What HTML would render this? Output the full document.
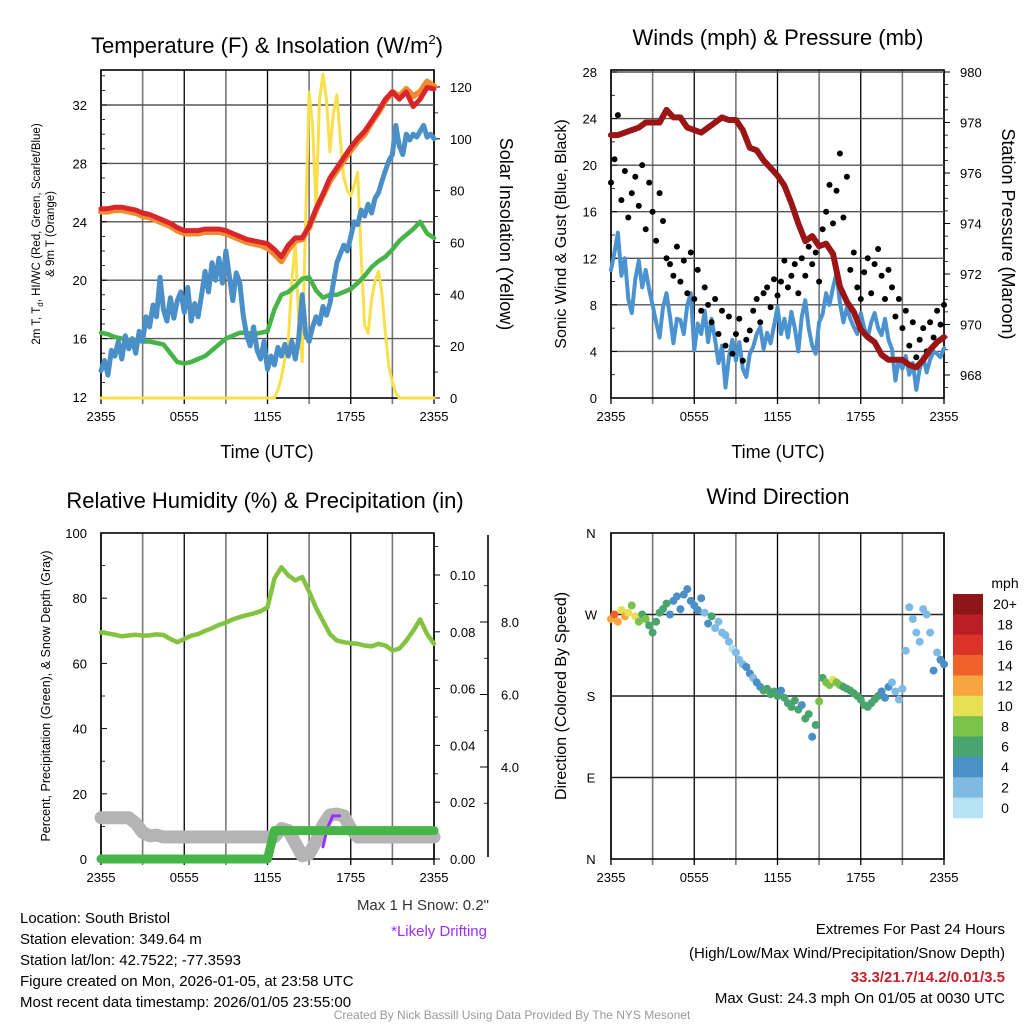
<!DOCTYPE html>
<html><head><meta charset="utf-8"><style>
html,body{margin:0;padding:0;background:#fff;}
svg{display:block;font-family:"Liberation Sans",Arial,sans-serif;}
</style></head><body>
<svg id="c" width="1024" height="1024" viewBox="0 0 1024 1024" xmlns="http://www.w3.org/2000/svg"></svg>
<script>
// ---------- DATA ----------
const timeTicks = ["2355","0555","1155","1755","2355"];
const tempRed = [24.9,24.9,25.0,25.0,24.9,24.8,24.6,24.5,24.3,24.1,23.9,23.6,23.4,23.4,23.4,23.5,23.5,23.5,23.4,23.2,23.0,22.8,22.7,22.6,22.5,22.1,21.6,22.4,22.9,22.9,23.7,24.9,25.9,27.0,27.7,28.4,29.1,29.7,30.2,30.9,31.6,32.4,32.9,32.4,32.9,31.9,32.4,33.2,33.1];
const temp9m = [24.7,24.7,24.8,24.8,24.7,24.6,24.4,24.3,24.1,23.9,23.7,23.4,23.2,23.2,23.2,23.3,23.3,23.3,23.2,23.0,22.8,22.6,22.5,22.4,22.2,21.8,21.3,22.1,22.7,22.8,23.6,24.8,25.8,26.8,27.5,28.2,28.9,29.5,30.0,30.8,31.5,32.3,32.9,32.6,33.1,32.6,32.9,33.6,33.3];
const tempBlue = [13.8,14.5,13.5,15.2,14.8,15.8,14.6,16.2,15.3,16.0,15.0,16.5,15.8,17.5,16.8,18.3,17.5,20.2,18.0,17.2,18.8,17.4,18.6,19.2,17.8,19.5,17.2,18.4,17.5,19.0,20.6,19.2,21.2,20.0,21.5,19.8,22.0,20.3,18.6,20.5,19.8,17.6,16.2,15.5,16.8,15.2,14.6,15.8,13.9,14.8,14.2,15.4,14.8,15.6,14.8,15.8,14.6,16.0,19.0,16.3,15.8,16.8,17.5,17.0,18.2,17.6,18.4,19.8,21.2,21.8,22.4,22.0,23.0,24.0,23.8,24.8,24.4,25.2,24.6,25.6,26.0,26.8,27.5,28.2,28.6,30.6,29.2,28.6,30.0,29.6,30.0,29.8,30.2,30.6,29.8,30.0,29.7];
const tempGreen = [16.4,16.3,16.1,16.0,15.9,15.9,15.8,15.8,15.7,15.6,15.0,14.4,14.3,14.4,14.6,14.8,15.2,15.6,16.0,16.2,16.4,16.4,16.3,16.4,16.5,18.0,19.0,19.2,19.6,20.1,20.2,19.3,18.8,19.0,19.0,19.2,19.4,19.8,20.3,20.9,21.3,21.6,22.1,22.7,23.1,23.5,24.0,23.2,22.9];
const insolation = [0,0,0,0,0,0,0,0,0,0,0,0,0,0,0,0,0,0,0,0,0,0,0,0,0,0,0,0,0,0,0,0,0,0,0,0,0,0,0,0,0,0,0,0,0,0,0,0,0,0,0,3,8,15,22,45,60,30,14,70,118,105,73,115,125,115,95,110,117,100,85,80,78,82,87,55,28,25,38,45,49,40,25,12,6,2,0,0,0,0,0,0,0,0,0,0,0];
const tempTicks = [12,16,20,24,28,32];
const insTicks = [0,20,40,60,80,100,120];

const pressure = [977.5,977.5,977.6,977.7,977.8,978.0,978.0,978.0,978.5,978.2,978.2,977.8,977.7,977.6,977.8,978.0,978.2,978.1,978.1,977.7,977.0,976.9,976.5,976.2,975.9,975.5,974.8,974.0,973.3,973.5,973.1,973.2,972.8,971.5,970.9,970.5,969.8,969.5,969.3,968.8,968.6,968.6,968.6,968.4,968.3,968.6,969.0,969.3,969.5];
const windSpeed = [11,12.5,14.2,10.5,12.0,8.5,7.3,10.2,11.8,9.5,11.0,9.3,8.0,6.5,5.2,7.8,9.0,7.0,4.7,6.8,6.7,5.5,8.0,9.0,4.1,6.4,5.5,7.5,4.8,6.8,5.0,3.0,4.5,0.9,3.5,5.0,3.2,4.8,2.5,1.8,3.8,4.4,5.5,6.1,4.2,5.6,4.7,6.2,7.8,5.5,6.8,5.2,7.4,6.0,4.0,7.0,8.4,6.0,4.5,3.8,6.5,7.2,9.0,8.0,9.5,10.7,8.2,6.5,7.8,6.8,6.1,5.5,7.3,6.0,5.2,6.5,7.3,6.0,5.4,6.8,5.0,4.2,1.5,3.3,2.5,3.6,2.0,3.0,0.7,2.5,3.5,2.2,3.3,4.0,3.8,3.5,4.3];
const windGust = [18.5,20.5,24.3,17.0,19.5,15.5,17.6,19.0,16.5,20.0,14.5,18.5,16.0,13.5,17.6,15.2,12.0,11.5,10.5,13.0,10.0,11.8,9.0,12.5,8.5,11.0,7.5,9.5,8.0,6.5,8.5,5.5,7.5,4.5,7.0,3.8,5.5,6.8,3.2,5.0,5.8,7.5,8.5,6.5,9.0,9.5,7.8,10.2,8.8,10.0,11.8,9.5,10.5,11.5,9.0,12.0,10.5,13.0,11.5,12.5,10.0,14.5,16.0,18.3,15.0,17.8,21.0,15.5,19.0,11.0,12.5,9.5,8.5,10.8,12.0,9.0,11.5,12.8,10.5,8.5,11.0,9.5,7.0,8.5,6.0,7.5,4.5,6.5,3.5,5.0,6.0,4.0,6.5,5.2,7.5,6.3,8.0];
const windTicks = [0,4,8,12,16,20,24,28];
const presTicks = [968,970,972,974,976,978,980];

const humidity = [69.5,69.2,68.8,68.3,68.6,68.8,68.5,68.6,68.9,68.7,67.5,66.5,67.5,68.5,69.0,70.0,70.8,71.8,72.5,73.5,74.2,74.8,75.3,76.0,77.2,86.0,89.5,87.0,85.5,86.5,82.0,77.0,73.0,69.0,67.0,66.5,66.2,66.0,65.5,65.2,66.0,65.5,64.0,64.5,67.0,70.0,73.5,69.0,66.0];
const precip = [0,0,0,0,0,0,0,0,0,0,0,0,0,0,0,0,0,0,0,0,0,0,0,0,0,0.01,0.01,0.01,0.01,0.01,0.01,0.01,0.01,0.01,0.01,0.01,0.01,0.01,0.01,0.01,0.01,0.01,0.01,0.01,0.01,0.01,0.01,0.01,0.01];
const snowDepth = [2.6,2.6,2.6,2.6,2.6,2.45,2.2,2.1,2.12,2.07,2.07,2.07,2.07,2.07,2.07,2.07,2.07,2.07,2.07,2.07,2.07,2.07,2.07,2.07,2.07,2.07,2.3,2.25,1.9,1.55,1.6,1.95,2.4,2.68,2.7,2.65,2.3,2.07,2.07,2.07,2.07,2.07,2.07,2.07,2.07,2.07,2.07,2.07,2.07];
const driftHours = [16.0,16.3,16.7,17.2];
const driftSnow = [1.8,2.3,2.65,2.65];
const pctTicks = [0,20,40,60,80,100];
const precipTicks = [0.00,0.02,0.04,0.06,0.08,0.10];
const snowTicks = [4.0,6.0,8.0];

const windDir = [265,270,262,275,268,272,280,268,262,270,265,258,250,262,272,276,282,270,285,290,276,292,298,285,280,275,288,272,260,268,255,262,250,247,240,232,228,220,215,212,205,200,195,190,186,188,182,185,180,186,178,172,168,175,165,170,155,160,135,148,174,200,195,192,198,195,192,190,188,186,183,180,176,170,168,172,176,180,185,178,190,195,185,176,188,230,278,265,250,240,276,270,250,208,228,220,215];
const dirSpeed = [13,14,12,11,12,10,9,10,8,7,8,7,6,7,6,7,6,5,5,5,4,4,4,5,4,5,4,3,4,6,3,3,3,2,3,1,3,2,3,4,4,3,4,5,6,6,6,7,6,5,6,7,6,6,6,5,6,6,4,6,8,7,9,8,10,8,9,6,7,6,6,7,7,6,7,7,6,6,4,4,4,3,3,2,3,2,3,2,3,2,3,2,3,4,3,5,4];
const dirLabels = ["N","E","S","W","N"];
const dirTickVals = [0,90,180,270,360];
const cbLabels = ["0","2","4","6","8","10","12","14","16","18","20+"];
const cbColors = ['#b6e2f6','#7fbae3','#4a8fc6','#49a56d','#7bc24a','#e7e055','#f7a540','#f0622a','#dc3328','#bb1e24','#8e1518'];

// ---------- HELPERS ----------
const NS="http://www.w3.org/2000/svg";
const svg=document.getElementById('c');
function mk(tag,attrs,parent){const e=document.createElementNS(NS,tag);for(const k in attrs)e.setAttribute(k,attrs[k]);(parent||svg).appendChild(e);return e;}
function txt(x,y,s,size,anchor,extra){const e=mk('text',Object.assign({x:x,y:y,'font-size':size,'text-anchor':anchor||'start',fill:'#000'},extra||{}));e.textContent=s;return e;}
function hx(i,n){return i*24/(n-1);}

const P1={l:101,r:434,t:70,b:398}, P2={l:611,r:944,t:70,b:398}, P3={l:101,r:434,t:533,b:859}, P4={l:611,r:944,t:533,b:859};
const xA=(P,h)=>P.l+h*(P.r-P.l)/24;
const yTemp=v=>397-(v-12)*14.6;
const yIns=v=>398-v*2.592;
const yWind=v=>398-v*11.643;
const yPres=v=>375-(v-968)*25.25;
const yPct=v=>859-v*3.26;
const yPrecip=v=>859-v*2840;
const ySnow=v=>767-(v-4)*36.25;
const yDir=v=>859-v*326/360;

function frame(P,name){
  const g=mk('g',{});
  
  
  for(let k=0;k<=8;k++){
    const x=P.l+k*(P.r-P.l)/8;
    const l=mk('line',{x1:x,y1:P.t,x2:x,y2:P.b+6,stroke:k%2==0?'#000':'#777','stroke-width':k%2==0?1.3:1.6},g);
    
    
  }
  const r=mk('rect',{x:P.l,y:P.t,width:P.r-P.l,height:P.b-P.t,fill:'none',stroke:'#000','stroke-width':1.6});
  
  
  timeTicks.forEach((t,k)=>{
    const e=txt(P.l+k*(P.r-P.l)/4,P.b+23,t,13,'middle');
    
    
  });
}
function hgrid(P,vals,yf,color){
  vals.forEach(v=>{const y=yf(v);if(y>P.t+1&&y<P.b-1){const l=mk('line',{x1:P.l,y1:y,x2:P.r,y2:y,stroke:color||'#555','stroke-width':1.4});
    
    }});
}
function leftTicks(P,vals,yf,labels,minor){
  vals.forEach((v,k)=>{const y=yf(v);
    mk('line',{x1:P.l,y1:y,x2:P.l+6,y2:y,stroke:'#000','stroke-width':1});
    const e=txt(P.l-14,y+5,labels?labels[k]:String(v),13,'end');
    
    });
  if(minor)minor.forEach(v=>{const y=yf(v);mk('line',{x1:P.l,y1:y,x2:P.l+4,y2:y,stroke:'#000','stroke-width':0.8});});
}
function rightTicks(P,vals,yf,fmt,minor){
  vals.forEach(v=>{const y=yf(v);
    mk('line',{x1:P.r,y1:y,x2:P.r+6,y2:y,stroke:'#000','stroke-width':1});
    const e=txt(P.r+16,y+5,fmt?fmt(v):String(v),13,'start');
    
    });
  if(minor)minor.forEach(v=>{const y=yf(v);mk('line',{x1:P.r,y1:y,x2:P.r+4,y2:y,stroke:'#000','stroke-width':0.8});});
}
function series(P,arr,yf,color,w,name,hours){
  const pts=arr.map((v,i)=>xA(P,hours?hours[i]:hx(i,arr.length)).toFixed(1)+','+yf(v).toFixed(1)).join(' ');
  const e=mk('polyline',{points:pts,fill:'none',stroke:color,'stroke-width':w,'stroke-linejoin':'round','stroke-linecap':'round'});
  
  
  return e;
}
function range(a,b,s){const r=[];for(let v=a;v<=b+1e-9;v+=s)r.push(+v.toFixed(3));return r;}

// ---------- PANEL 1 ----------
frame(P1,'temperature-panel');
hgrid(P1,tempTicks,yTemp);
leftTicks(P1,tempTicks,yTemp,null,range(13,34,1));
rightTicks(P1,insTicks,yIns,null,range(10,120,10));
series(P1,insolation,yIns,'#f9e04b',3,'insolation-line');
series(P1,tempGreen,yTemp,'#46b446',4.5,'dewpoint-line');
series(P1,tempBlue,yTemp,'#4a8fc8',5,'heat-index-wind-chill-line');
series(P1,temp9m,yTemp,'#f08c30',6,'temp-9m-line');
series(P1,tempRed,yTemp,'#d8262a',5,'temp-2m-line');
let t=mk('text',{x:267,y:53,'font-size':22,'text-anchor':'middle'});t.innerHTML='Temperature (F) &amp; Insolation (W/m<tspan dy="-9" font-size="13">2</tspan><tspan dy="9">)</tspan>';

t=mk('text',{transform:'translate(40,234) rotate(-90)','font-size':11.5,'text-anchor':'middle'});t.innerHTML='2m T, T<tspan dy="3" font-size="8">d</tspan><tspan dy="-3">, HI/WC (Red, Green, Scarlet/Blue)</tspan>';

t=txt(0,0,'& 9m T (Orange)',11.5,'middle',{transform:'translate(54,234) rotate(-90)'});

t=txt(0,0,'Solar Insolation (Yellow)',18,'middle',{transform:'translate(500,234) rotate(90)'});

t=txt(267,458,'Time (UTC)',18,'middle');


// ---------- PANEL 2 ----------
frame(P2,'wind-panel');
hgrid(P2,windTicks,yWind);
leftTicks(P2,windTicks,yWind,null,range(2,26,4));
rightTicks(P2,presTicks,yPres,null,range(967.5,979.5,0.5).filter(v=>v%2!==0));
series(P2,windSpeed,yWind,'#4a93d0',4,'sonic-wind-line');
windGust.forEach((v,i)=>{const c=mk('circle',{cx:xA(P2,hx(i,windGust.length)).toFixed(1),cy:yWind(v).toFixed(1),r:3,fill:'#000'});
  
  });
series(P2,pressure,yPres,'#9b1416',6,'pressure-line');
t=txt(778,45,'Winds (mph) & Pressure (mb)',22,'middle');

t=txt(0,0,'Sonic Wind & Gust (Blue, Black)',16,'middle',{transform:'translate(566,234) rotate(-90)'});

t=txt(0,0,'Station Pressure (Maroon)',18,'middle',{transform:'translate(1002,234) rotate(90)'});

t=txt(778,458,'Time (UTC)',18,'middle');


// ---------- PANEL 3 ----------
frame(P3,'humidity-panel');
leftTicks(P3,pctTicks,yPct,null,range(10,90,20));
rightTicks(P3,precipTicks,yPrecip,v=>v.toFixed(2),range(0.01,0.11,0.02));
mk('line',{x1:488,y1:535,x2:488,y2:857,stroke:'#000','stroke-width':1.6});
snowTicks.forEach(v=>{const y=ySnow(v);mk('line',{x1:480,y1:y,x2:488,y2:y,stroke:'#000','stroke-width':1});
  const e=txt(510,y+5,v.toFixed(1),13,'middle');
  
  });
range(3,9,1).filter(v=>v%2).forEach(v=>{const y=ySnow(v);mk('line',{x1:484,y1:y,x2:488,y2:y,stroke:'#000','stroke-width':0.8});});
series(P3,snowDepth,ySnow,'#b4b4b4',13,'snow-depth-line');
series(P3,driftSnow,ySnow,'#9b30ff',3,'drifting-snow-line',driftHours);
series(P3,precip,yPrecip,'#46b446',9,'precipitation-line');
series(P3,humidity,yPct,'#84c341',4.5,'humidity-line');
t=txt(265,508,'Relative Humidity (%) & Precipitation (in)',22,'middle');

t=txt(0,0,'Percent, Precipitation (Green), & Snow Depth (Gray)',12.5,'middle',{transform:'translate(50,696) rotate(-90)'});

t=txt(489,910,'Max 1 H Snow: 0.2"',15,'end',{fill:'#333'});

t=txt(487,936,'*Likely Drifting',15,'end',{fill:'#9b30ff'});


// ---------- PANEL 4 ----------
frame(P4,'direction-panel');
hgrid(P4,dirTickVals,yDir,'#222');
dirTickVals.forEach((v,k)=>{const y=yDir(v);
  const e=txt(591,y+5,dirLabels[k],13,'middle');
  
  });
windDir.forEach((v,i)=>{const ci=Math.min(10,Math.floor(dirSpeed[i]/2));
  const c=mk('circle',{cx:xA(P4,hx(i,windDir.length)).toFixed(1),cy:yDir(v).toFixed(1),r:4,fill:cbColors[ci]});
  
  });
t=txt(778,504,'Wind Direction',22,'middle');

t=txt(0,0,'Direction (Colored By Speed)',16,'middle',{transform:'translate(566,696) rotate(-90)'});

const cbTop=594, cbH=224/cbColors.length;
cbColors.slice().reverse().forEach((c,k)=>{
  const r=mk('rect',{x:953,y:(cbTop+k*cbH).toFixed(1),width:30,height:(cbH+0.3).toFixed(1),fill:c});
  
  
  const e=txt(1005,cbTop+k*cbH+cbH/2+5,cbLabels[cbLabels.length-1-k],14,'middle');
  
  
});
t=txt(1005,588,'mph',14,'middle');


// ---------- FOOTER ----------
const info=["Location: South Bristol","Station elevation: 349.64 m","Station lat/lon: 42.7522; -77.3593","Figure created on Mon, 2026-01-05, at 23:58 UTC","Most recent data timestamp: 2026/01/05 23:55:00"];
info.forEach((s,k)=>{const e=txt(20,923+k*21,s,15,'start');
  
  });
t=txt(1005,934,'Extremes For Past 24 Hours',15,'end');

t=txt(1005,958,'(High/Low/Max Wind/Precipitation/Snow Depth)',15,'end');

t=txt(1005,982,'33.3/21.7/14.2/0.01/3.5',15,'end',{fill:'#c8202a','font-weight':'bold'});

t=txt(1005,1003,'Max Gust: 24.3 mph On 01/05 at 0030 UTC',15,'end');

t=txt(512,1019,'Created By Nick Bassill Using Data Provided By The NYS Mesonet',12,'middle',{fill:'#999'});

</script>
</body></html>
